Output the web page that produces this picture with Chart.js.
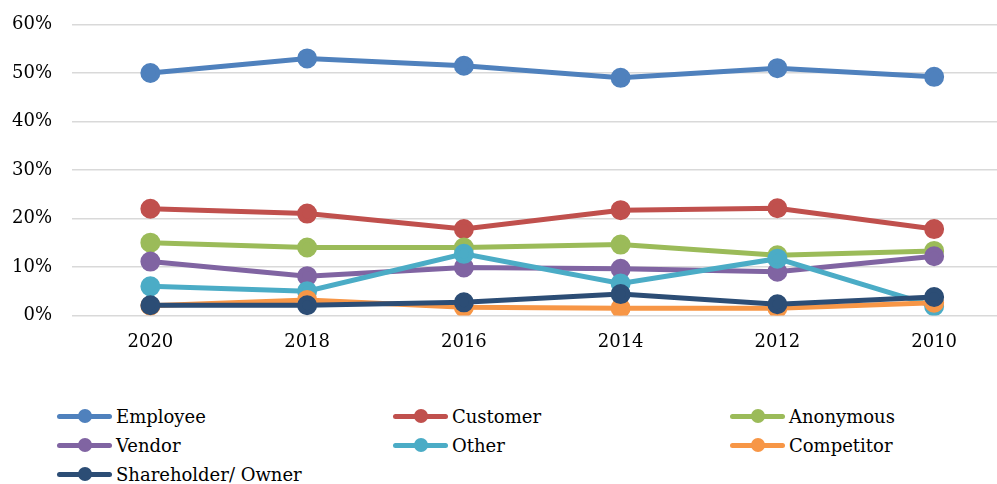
<!DOCTYPE html>
<html>
<head>
<meta charset="utf-8">
<script src="https://cdn.jsdelivr.net/npm/chart.js@4.4.1/dist/chart.umd.min.js"></script>
<style>
    html, body { margin: 0; padding: 0; background: #fff; overflow: hidden; }
    #outer { position: relative; width: 997px; height: 484px; overflow: hidden; }
    #wrap { position: absolute; left: 0; top: 0; width: 1025px; height: 377px; }
    #legend { position: absolute; left: 0; top: 402px; width: 997px; font-family: "DejaVu Serif", serif; font-size: 18px; color: #000; }
    .item { position: absolute; height: 29px; line-height: 29px; white-space: nowrap; }
    .mark { position: absolute; left: 0; top: 12px; width: 55px; height: 5px; border-radius: 3px; }
    .dot { position: absolute; left: 21px; top: 7px; width: 14px; height: 14px; border-radius: 50%; }
    .txt { position: absolute; left: 59px; top: 0; }
</style>
</head>
<body>
<div id="outer">
    <div id="wrap"><canvas id="chart" width="1025" height="377"></canvas></div>
    <div id="legend"></div>
</div>
<script>
// Data (persen)
const years = ['2020', '2018', '2016', '2014', '2012', '2010'];
const seriesNames = ['Employee', 'Customer', 'Anonymous', 'Vendor', 'Other', 'Competitor', 'Shareholder/ Owner'];
const employee = [50.0, 53.0, 51.5, 49.0, 51.0, 49.2];
const customer = [22.0, 21.0, 17.8, 21.7, 22.1, 17.8];
const anonymous = [15.0, 14.0, 14.0, 14.6, 12.4, 13.3];
const vendor = [11.1, 8.1, 9.9, 9.6, 9.0, 12.2];
const other = [6.0, 5.0, 12.7, 6.6, 11.7, 1.9];
const competitor = [2.0, 3.2, 1.7, 1.5, 1.5, 2.6];
const shareholder = [2.1, 2.1, 2.7, 4.4, 2.3, 3.8];
const colors = ['#4F81BD', '#C0504D', '#9BBB59', '#8064A2', '#4BACC6', '#F79646', '#2C4D75'];
const yTicks = [0, 10, 20, 30, 40, 50, 60];

const allSeries = [employee, customer, anonymous, vendor, other, competitor, shareholder];

// seri terakhir digambar paling atas (seperti Excel)
const datasets = allSeries.map((vals, i) => ({
    label: seriesNames[i],
    data: vals,
    borderColor: colors[i],
    backgroundColor: colors[i],
    pointBackgroundColor: colors[i],
    pointBorderColor: colors[i],
    borderWidth: 5,
    pointRadius: 7.5,
    pointHoverRadius: 7.5,
    tension: 0,
    order: allSeries.length - i
}));

const fontFam = '"DejaVu Serif", serif';

new Chart(document.getElementById('chart'), {
    type: 'line',
    data: { labels: years, datasets: datasets },
    options: {
        responsive: false,
        animation: false,
        devicePixelRatio: 1,
        layout: { padding: { left: 10, top: 24.5, right: 2, bottom: 8 } },
        plugins: { legend: { display: false }, tooltip: { enabled: false } },
        scales: {
            x: {
                offset: true,
                grid: { display: false, drawTicks: false },
                border: { display: false },
                ticks: { color: '#000', font: { family: fontFam, size: 18 }, padding: 16, maxRotation: 0 }
            },
            y: {
                min: 0,
                max: 60,
                afterBuildTicks: (axis) => { axis.ticks = yTicks.map(v => ({ value: v })); },
                afterFit: (axis) => {
                    axis.width = 62;
                    axis.paddingTop = 0;
                    axis.paddingBottom = 0;
                },
                grid: { color: '#D9D9D9', lineWidth: 1.5, drawTicks: false },
                border: { display: false },
                ticks: {
                    color: '#000',
                    font: { family: fontFam, size: 18 },
                    padding: 20,
                    callback: (v) => v + '%'
                }
            }
        }
    }
});

// Legenda HTML, 3 kolom
const cols = [57, 393, 730];
const legend = document.getElementById('legend');
seriesNames.forEach((name, i) => {
    const item = document.createElement('div');
    item.className = 'item';
    item.style.left = cols[i % 3] + 'px';
    item.style.top = (Math.floor(i / 3) * 29) + 'px';
    item.innerHTML = '<div class="mark" style="background:' + colors[i] + '"></div>' +
        '<div class="dot" style="background:' + colors[i] + '"></div>' +
        '<span class="txt">' + name + '</span>';
    legend.appendChild(item);
});
</script>
</body>
</html>
